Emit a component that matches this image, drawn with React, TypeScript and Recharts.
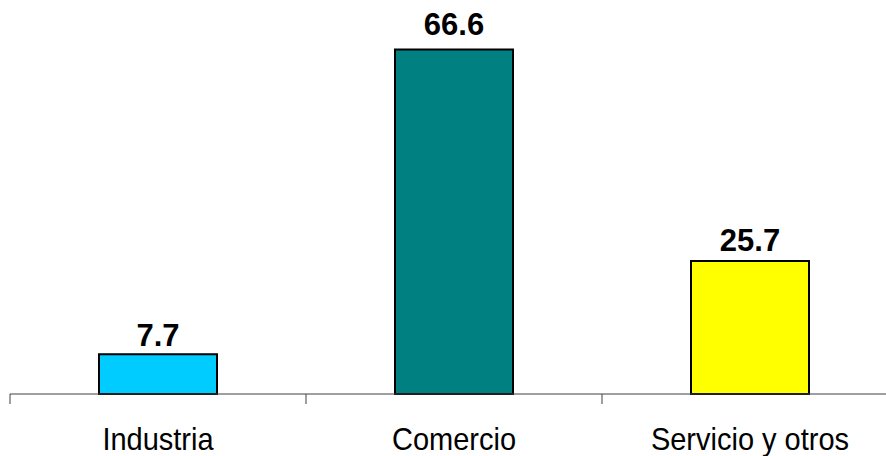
import React from "react";
import { BarChart, Bar, XAxis, YAxis, Cell, LabelList } from "recharts";

const categories = ["Industria", "Comercio", "Servicio y otros"];
const values = [7.7, 66.6, 25.7];
const colors = ["#00CCFF", "#008080", "#FFFF00"];

const data = categories.map((name, i) => ({ name, value: values[i] }));

const FONT = "'Liberation Sans', Arial, Helvetica, sans-serif";

const CategoryTick = (props: any) => {
  const { x, y, payload, index } = props;
  const half = payload && typeof payload.offset === "number" && payload.offset > 0 ? payload.offset : 148;
  const by = y + 56;
  return (
    <g>
      <line x1={x - half} y1={y} x2={x - half} y2={y + 10} stroke="#404040" strokeWidth={1} />
      {index === categories.length - 1 && (
        <line x1={x + half} y1={y} x2={x + half} y2={y + 10} stroke="#404040" strokeWidth={1} />
      )}
      <text
        x={x}
        y={by}
        textAnchor="middle"
        fontFamily={FONT}
        fontSize={29}
        fill="#000"
        transform={`translate(0 ${by}) scale(1 1.06) translate(0 ${-by})`}
      >
        {payload.value}
      </text>
    </g>
  );
};

const ValueLabel = (props: any) => {
  const { x, y, width, value } = props;
  const by = y - (7 + 0.12 * Number(value));
  return (
    <text
      x={x + width / 2}
      y={by}
      textAnchor="middle"
      fontFamily={FONT}
      fontSize={31}
      fontWeight="bold"
      fill="#000"
      transform={`translate(0 ${by}) scale(1 1.03) translate(0 ${-by})`}
    >
      {value}
    </text>
  );
};

export default function App() {
  return (
    <div
      style={{
        position: "absolute",
        left: 0,
        top: 0,
        width: 886,
        height: 456,
        overflow: "hidden",
        background: "#fff",
      }}
    >
      <BarChart
        width={900}
        height={456}
        data={data}
        margin={{ top: 32, right: 2, bottom: 0, left: 10 }}
      >
        <YAxis hide domain={[0, 70]} />
        <XAxis
          dataKey="name"
          height={62}
          axisLine={{ stroke: "#404040", strokeWidth: 1 }}
          tickLine={false}
          tickSize={0}
          tickMargin={0}
          interval={0}
          tick={<CategoryTick />}
        />
        <Bar dataKey="value" barSize={118} stroke="#000" strokeWidth={2} isAnimationActive={false}>
          {data.map((d, i) => (
            <Cell key={d.name} fill={colors[i]} />
          ))}
          <LabelList dataKey="value" content={<ValueLabel />} />
        </Bar>
      </BarChart>
    </div>
  );
}
